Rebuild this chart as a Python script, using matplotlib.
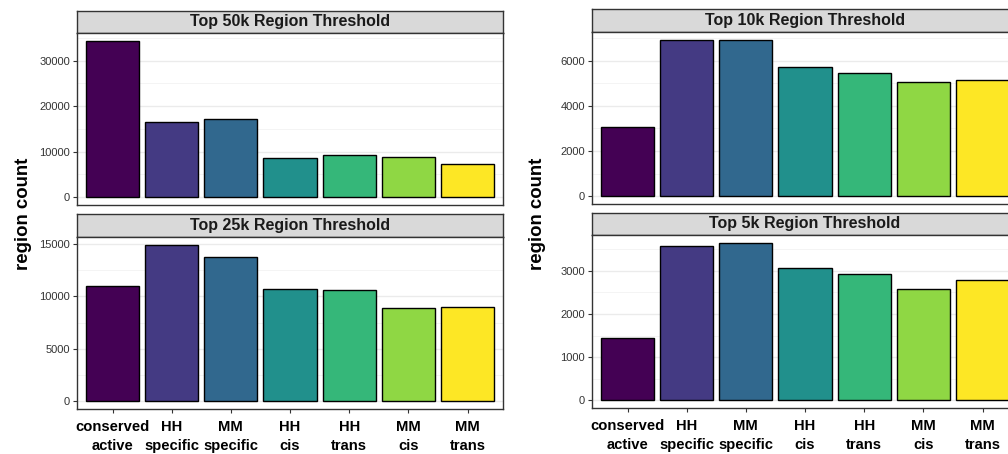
import matplotlib
matplotlib.use("Agg")
import matplotlib.pyplot as plt
from matplotlib.ticker import MultipleLocator

plt.rcParams['font.family'] = ['Liberation Sans', 'DejaVu Sans']

# категории и значения
categories = ['conserved\nactive', 'HH\nspecific', 'MM\nspecific', 'HH\ncis',
              'HH\ntrans', 'MM\ncis', 'MM\ntrans']
top50k = [34380, 16490, 17140, 8540, 9260, 8820, 7290]
top25k = [10990, 14910, 13770, 10710, 10610, 8880, 8940]
top10k = [3045, 6926, 6940, 5735, 5456, 5044, 5162]
top5k = [1440, 3570, 3640, 3062, 2923, 2577, 2792]
colors = ['#440154', '#443A83', '#31688E', '#21908C', '#35B779', '#8FD744', '#FDE725']

W, H = 1008, 454
fig = plt.figure(figsize=(W / 100, H / 100), dpi=100)


def box(x0, x1, y0, y1):
    # пиксели -> доли фигуры
    return [x0 / W, 1 - y1 / H, (x1 - x0) / W, (y1 - y0) / H]


def facet(x0, x1, sy0, y0, y1, values, title, major, bottom):
    s = fig.add_axes(box(x0, x1, sy0, y0))
    s.set_facecolor('#D9D9D9')
    s.set_xticks([])
    s.set_yticks([])
    for sp in s.spines.values():
        sp.set_color('#333333')
        sp.set_linewidth(1)
    s.text(0.5, 0.5, title, ha='center', va='center', fontsize=11.5,
           fontweight='bold', color='#1A1A1A', transform=s.transAxes)

    ax = fig.add_axes(box(x0, x1, y0, y1))
    x = range(len(values))
    ax.bar(x, values, width=0.9, color=colors, edgecolor='black', linewidth=1, zorder=3)
    m = max(values)
    ax.set_ylim(-0.05 * m, 1.05 * m)
    ax.set_xlim(-0.6, len(values) - 0.4)
    ax.yaxis.set_major_locator(MultipleLocator(major))
    ax.yaxis.set_minor_locator(MultipleLocator(major / 2))
    ax.grid(axis='y', which='major', color='#EBEBEB', linewidth=1, zorder=0)
    ax.grid(axis='y', which='minor', color='#F2F2F2', linewidth=0.6, zorder=0)
    ax.tick_params(axis='y', which='major', labelsize=8, colors='#333333',
                   length=3, width=0.8, pad=2)
    ax.tick_params(axis='y', which='minor', length=0)
    for sp in ax.spines.values():
        sp.set_color('#333333')
        sp.set_linewidth(1)
    if bottom:
        ax.set_xticks(list(x))
        ax.set_xticklabels(categories, fontsize=10.6, fontweight='bold',
                           color='black', linespacing=1.45)
        ax.tick_params(axis='x', length=3, width=0.8, colors='#333333',
                       labelcolor='black', pad=4.8)
    else:
        ax.set_xticks([])
    return ax


facet(77, 503, 10.7, 33, 205, top50k, 'Top 50k Region Threshold', 10000, False)
facet(77, 503, 214.3, 236.7, 409.3, top25k, 'Top 25k Region Threshold', 5000, True)
facet(592, 1018, 9, 31.7, 204, top10k, 'Top 10k Region Threshold', 2000, False)
facet(592, 1018, 212.7, 235, 408.3, top5k, 'Top 5k Region Threshold', 1000, True)

fig.text(24 / W, 1 - 214 / H, 'region count', rotation=90, ha='center', va='center',
         fontsize=13.4, fontweight='bold')
fig.text(538 / W, 1 - 214 / H, 'region count', rotation=90, ha='center', va='center',
         fontsize=13.4, fontweight='bold')

fig.savefig('out.png', dpi=100)
